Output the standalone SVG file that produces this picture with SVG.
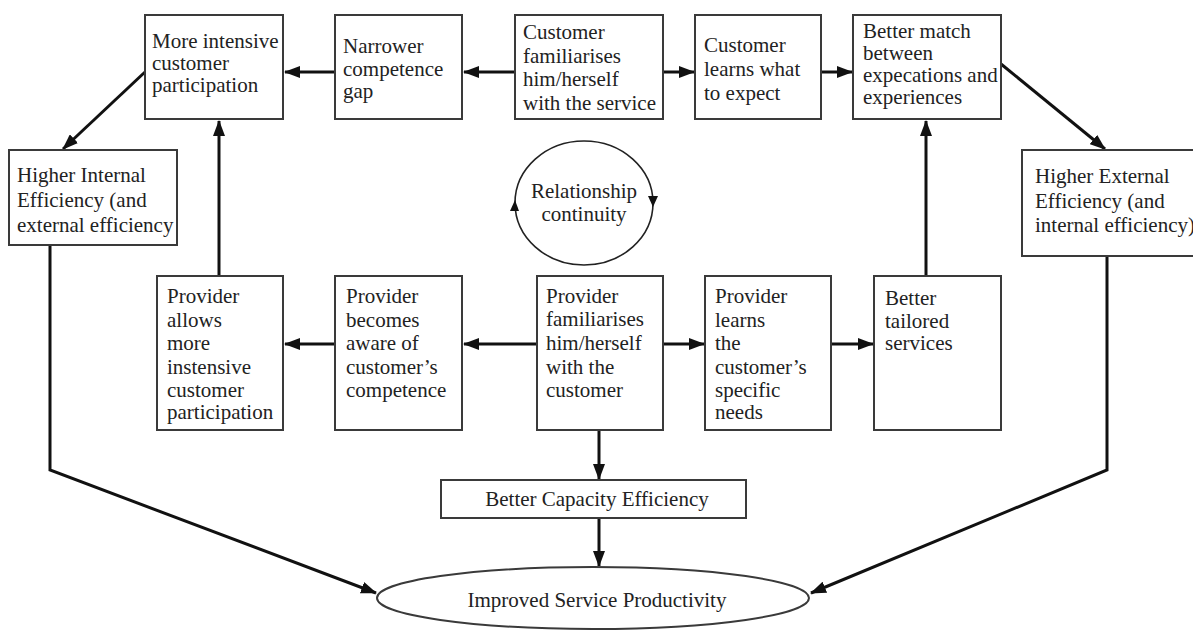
<svg xmlns="http://www.w3.org/2000/svg" width="1193" height="633" viewBox="0 0 1193 633">
  <style>
    .box { fill: #ffffff; stroke: #3a3a3a; stroke-width: 2; }
    .lbl { font-family: "Liberation Serif", "Times New Roman", serif; font-size: 21px; fill: #222222; }
    .mid { text-anchor: middle; }
    .conn { fill: none; stroke: #111111; stroke-width: 3; }
    .thin { fill: none; stroke: #222222; stroke-width: 1.6; }
  </style>
  <defs>
    <marker id="ah" markerWidth="16" markerHeight="12" refX="15" refY="6" orient="auto" markerUnits="userSpaceOnUse">
      <path d="M0,0 L16,6 L0,12 Z" fill="#111111"/>
    </marker>
  </defs>
  <rect width="1193" height="633" fill="#ffffff"/>

  <!-- connectors -->
  <g id="connectors">
    <!-- top row -->
    <line class="conn" x1="335" y1="72" x2="285" y2="72" marker-end="url(#ah)"/>
    <line class="conn" x1="515" y1="72" x2="464" y2="72" marker-end="url(#ah)"/>
    <line class="conn" x1="663" y1="72" x2="694" y2="72" marker-end="url(#ah)"/>
    <line class="conn" x1="821" y1="72" x2="852" y2="72" marker-end="url(#ah)"/>
    <!-- diagonals to efficiency boxes -->
    <line class="conn" x1="145" y1="72" x2="63" y2="149" marker-end="url(#ah)"/>
    <line class="conn" x1="1001" y1="64" x2="1105" y2="149" marker-end="url(#ah)"/>
    <!-- verticals up into top row -->
    <line class="conn" x1="219" y1="276" x2="219" y2="121" marker-end="url(#ah)"/>
    <line class="conn" x1="926" y1="276" x2="926" y2="121" marker-end="url(#ah)"/>
    <!-- bottom row -->
    <line class="conn" x1="537" y1="344" x2="464" y2="344" marker-end="url(#ah)"/>
    <line class="conn" x1="335" y1="344" x2="285" y2="344" marker-end="url(#ah)"/>
    <line class="conn" x1="663" y1="344" x2="704" y2="344" marker-end="url(#ah)"/>
    <line class="conn" x1="831" y1="344" x2="873" y2="344" marker-end="url(#ah)"/>
    <!-- down the middle -->
    <line class="conn" x1="599" y1="430" x2="599" y2="479" marker-end="url(#ah)"/>
    <line class="conn" x1="599" y1="518" x2="599" y2="566" marker-end="url(#ah)"/>
    <!-- side paths into the ellipse -->
    <polyline class="conn" points="50,245 50,470 376,593" marker-end="url(#ah)"/>
    <polyline class="conn" points="1107,256 1107,470 811,593" marker-end="url(#ah)"/>
  </g>

  <!-- top row -->
  <g id="more-intensive">
    <rect class="box" x="145" y="15" width="138" height="104"/>
    <text class="lbl" x="152" y="48">More intensive</text>
    <text class="lbl" x="152" y="70">customer</text>
    <text class="lbl" x="152" y="92">participation</text>
  </g>
  <g id="narrower-gap">
    <rect class="box" x="335" y="15" width="127" height="104"/>
    <text class="lbl" x="343" y="53">Narrower</text>
    <text class="lbl" x="343" y="76">competence</text>
    <text class="lbl" x="343" y="98">gap</text>
  </g>
  <g id="customer-familiarises">
    <rect class="box" x="515" y="15" width="148" height="104"/>
    <text class="lbl" x="523" y="39">Customer</text>
    <text class="lbl" x="523" y="63">familiarises</text>
    <text class="lbl" x="523" y="86">him/herself</text>
    <text class="lbl" x="523" y="110">with the service</text>
  </g>
  <g id="customer-learns">
    <rect class="box" x="695" y="15" width="126" height="104"/>
    <text class="lbl" x="704" y="52">Customer</text>
    <text class="lbl" x="704" y="76">learns what</text>
    <text class="lbl" x="704" y="100">to expect</text>
  </g>
  <g id="better-match">
    <rect class="box" x="853" y="15" width="148" height="104"/>
    <text class="lbl" x="863" y="38">Better match</text>
    <text class="lbl" x="863" y="60">between</text>
    <text class="lbl" x="863" y="82">expecations and</text>
    <text class="lbl" x="863" y="104">experiences</text>
  </g>

  <!-- efficiency boxes -->
  <g id="higher-internal">
    <rect class="box" x="9" y="150" width="168" height="95"/>
    <text class="lbl" x="17" y="182">Higher Internal</text>
    <text class="lbl" x="17" y="207">Efficiency (and</text>
    <text class="lbl" x="17" y="232">external efficiency</text>
  </g>
  <g id="higher-external">
    <rect class="box" x="1022" y="150" width="180" height="106"/>
    <text class="lbl" x="1035" y="183">Higher External</text>
    <text class="lbl" x="1035" y="208">Efficiency (and</text>
    <text class="lbl" x="1035" y="232">internal efficiency)</text>
  </g>

  <!-- relationship loop -->
  <g id="relationship-continuity">
    <ellipse class="thin" cx="584" cy="203" rx="69" ry="62"/>
    <path d="M515,200 L510,211 L519,211 Z" fill="#111111"/>
    <path d="M653,207 L648,196 L658,196 Z" fill="#111111"/>
    <text class="lbl mid" x="584" y="198">Relationship</text>
    <text class="lbl mid" x="584" y="221">continuity</text>
  </g>

  <!-- bottom row -->
  <g id="provider-allows">
    <rect class="box" x="157" y="276" width="126" height="154"/>
    <text class="lbl" x="167" y="303">Provider</text>
    <text class="lbl" x="167" y="327">allows</text>
    <text class="lbl" x="167" y="350">more</text>
    <text class="lbl" x="167" y="374">instensive</text>
    <text class="lbl" x="167" y="397">customer</text>
    <text class="lbl" x="167" y="419">participation</text>
  </g>
  <g id="provider-aware">
    <rect class="box" x="335" y="276" width="127" height="154"/>
    <text class="lbl" x="346" y="303">Provider</text>
    <text class="lbl" x="346" y="327">becomes</text>
    <text class="lbl" x="346" y="350">aware of</text>
    <text class="lbl" x="346" y="374">customer’s</text>
    <text class="lbl" x="346" y="397">competence</text>
  </g>
  <g id="provider-familiarises">
    <rect class="box" x="537" y="276" width="126" height="154"/>
    <text class="lbl" x="546" y="303">Provider</text>
    <text class="lbl" x="546" y="326">familiarises</text>
    <text class="lbl" x="546" y="350">him/herself</text>
    <text class="lbl" x="546" y="374">with the</text>
    <text class="lbl" x="546" y="397">customer</text>
  </g>
  <g id="provider-learns">
    <rect class="box" x="705" y="276" width="126" height="154"/>
    <text class="lbl" x="715" y="303">Provider</text>
    <text class="lbl" x="715" y="327">learns</text>
    <text class="lbl" x="715" y="350">the</text>
    <text class="lbl" x="715" y="374">customer’s</text>
    <text class="lbl" x="715" y="397">specific</text>
    <text class="lbl" x="715" y="419">needs</text>
  </g>
  <g id="better-tailored">
    <rect class="box" x="874" y="276" width="127" height="154"/>
    <text class="lbl" x="885" y="305">Better</text>
    <text class="lbl" x="885" y="328">tailored</text>
    <text class="lbl" x="885" y="350">services</text>
  </g>

  <!-- outcomes -->
  <g id="capacity-efficiency">
    <rect class="box" x="441" y="480" width="305" height="38"/>
    <text class="lbl mid" x="597" y="506">Better Capacity Efficiency</text>
  </g>
  <g id="improved-productivity">
    <ellipse class="box" cx="593" cy="598" rx="216" ry="31"/>
    <text class="lbl mid" x="597" y="607">Improved Service Productivity</text>
  </g>
</svg>
